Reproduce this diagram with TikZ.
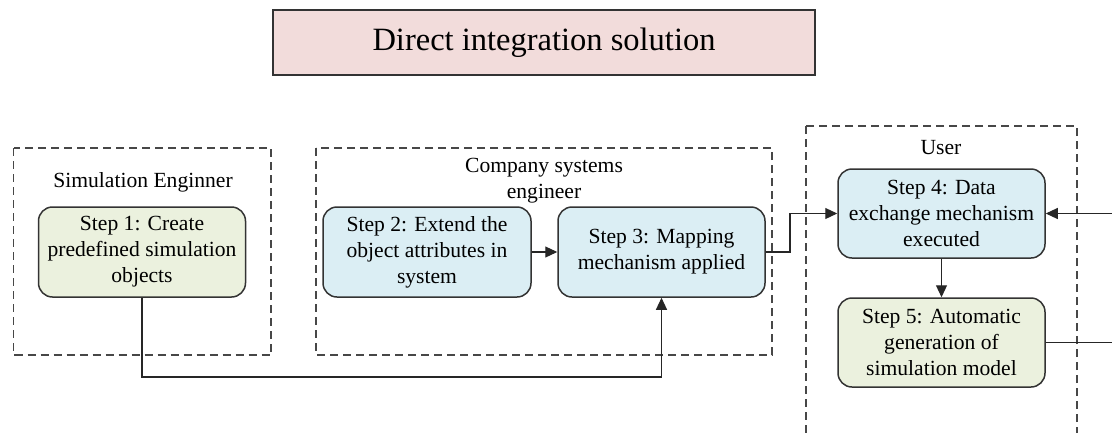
\documentclass[tikz,border=0pt]{standalone}
\usepackage{fontspec}
\setmainfont{Liberation Serif}
\usetikzlibrary{arrows.meta}
\definecolor{boxline}{HTML}{333333}
\definecolor{greenfill}{HTML}{EBF1DE}
\definecolor{bluefill}{HTML}{DBEEF4}
\definecolor{pinkfill}{HTML}{F2DCDB}
\tikzset{
  stepbox/.style={draw=boxline, line width=1.5pt, rounded corners=14pt,
    align=center, inner sep=0pt, minimum width=207pt, minimum height=90pt,
    font=\fontsize{21.6}{26}\selectfont},
  greenbox/.style={stepbox, fill=greenfill},
  bluebox/.style={stepbox, fill=bluefill},
  lane/.style={draw=boxline!90, line width=1.2pt, dash pattern=on 8pt off 5pt},
  lanelabel/.style={align=center, inner sep=0pt, font=\fontsize{21.6}{26}\selectfont},
  link/.style={draw=black!85, line width=1.1pt},
  arrowlink/.style={link, -{Triangle[length=12pt,width=11pt]}}
}
\begin{document}
\begin{tikzpicture}[x=1pt, y=-1pt]
\useasboundingbox (0,0) rectangle (1112,432);
\clip (0,0) rectangle (1112,432);

% title banner
\node[draw=boxline, line width=1.6pt, fill=pinkfill, minimum width=542pt,
  minimum height=65pt, inner sep=0pt, font=\fontsize{32.5}{38}\selectfont]
  (title) at (544,42.5) {Direct integration solution};

% swimlanes
\draw[lane] (13.5,148) rectangle (271,355);
\draw[lane] (316,148) rectangle (772,355);
\draw[lane] (806,126) rectangle (1077,470);

\node[lanelabel] (simeng) at (143,182) {Simulation Enginner};
\node[lanelabel] (company) at (544,181) {Company systems\\engineer};
\node[lanelabel] (user) at (941,148) {User};

% process steps
\node[greenbox] (s1) at (142,252) {Step 1: Create\\predefined simulation\\objects};
\node[bluebox, minimum width=208pt] (s2) at (427,252) {Step 2: Extend the\\object attributes in\\system};
\node[bluebox] (s3) at (661.5,252) {Step 3: Mapping\\mechanism applied};
\node[bluebox, minimum height=89pt] (s4) at (941.5,213.5) {Step 4: Data\\exchange mechanism\\executed};
\node[greenbox, minimum height=89pt] (s5) at (941.5,342.5) {Step 5: Automatic\\generation of\\simulation model};

% connectors
\coordinate (j34) at (790,252);
\coordinate (b13) at (661.5,377);
\coordinate (e5) at (1113,342.5);
\coordinate (e4) at (1113,213.5);

\draw[arrowlink] (s2.east) -- (s3.west);
\draw[arrowlink] (s3.east) -- (j34) |- (s4.west);
\draw[arrowlink] (s1.south) |- (b13) -- (s3.south);
\draw[arrowlink] (s4.south) -- (s5.north);
\draw[link] (s5.east) -- (e5);
\draw[arrowlink] (e4) -- (s4.east);
\end{tikzpicture}
\end{document}
